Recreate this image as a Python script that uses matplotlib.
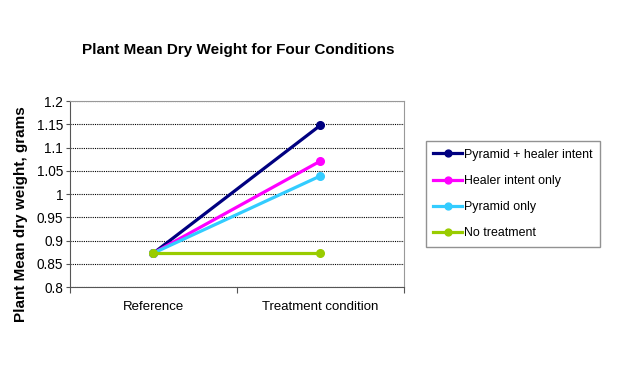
import matplotlib
matplotlib.use("Agg")
import matplotlib.pyplot as plt
from matplotlib.ticker import FixedLocator, NullFormatter

plt.rcParams["font.family"] = ["Liberation Sans", "DejaVu Sans"]

# chart data
categories = ["Reference", "Treatment condition"]
series_names = ["Pyramid + healer intent", "Healer intent only", "Pyramid only", "No treatment"]
pyramid_healer = [0.873, 1.148]
healer_only = [0.873, 1.071]
pyramid_only = [0.873, 1.039]
no_treatment = [0.873, 0.873]
colors = ["#000080", "#FF00FF", "#33CCFF", "#99CC00"]
y_ticks = [0.8, 0.85, 0.9, 0.95, 1.0, 1.05, 1.1, 1.15, 1.2]
y_labels = ["0.8", "0.85", "0.9", "0.95", "1", "1.05", "1.1", "1.15", "1.2"]

fig = plt.figure(figsize=(6.2, 3.69), dpi=100)
ax = fig.add_axes([0.1129, 0.2222, 0.5387, 0.504])

x = [0.5, 1.5]
for name, vals, c in zip(series_names, [pyramid_healer, healer_only, pyramid_only, no_treatment], colors):
    ax.plot(x, vals, color=c, lw=2.3, marker="o", ms=5.5, label=name, zorder=3)

ax.set_xlim(0, 2)
ax.set_ylim(0.8, 1.2)
ax.set_yticks(y_ticks)
ax.set_yticklabels(y_labels, fontsize=9.8)
ax.yaxis.grid(True, color="black", linestyle=(0, (1, 1)), lw=0.8)
ax.set_axisbelow(True)

# category boundaries as ticks, labels centred between
ax.xaxis.set_major_locator(FixedLocator([0, 1, 2]))
ax.xaxis.set_major_formatter(NullFormatter())
ax.xaxis.set_minor_locator(FixedLocator(x))
ax.set_xticklabels(categories, minor=True, fontsize=9.5)
ax.tick_params(axis="x", which="minor", length=0, pad=10)
ax.tick_params(axis="x", which="major", length=4, color="#555555")
ax.tick_params(axis="y", length=3, color="#555555", pad=2)

for s in ["top", "right"]:
    ax.spines[s].set_color("#999999")
for s in ["left", "bottom"]:
    ax.spines[s].set_color("#555555")

fig.text(0.034, 0.42, "Plant Mean dry weight, grams", rotation=90, ha="center", va="center",
         fontsize=11, fontweight="bold")
fig.text(0.384, 0.865, "Plant Mean Dry Weight for Four Conditions", ha="center", va="center",
         fontsize=11, fontweight="bold")

leg = fig.legend(loc="center left", bbox_to_anchor=(0.677, 0.474), fontsize=8.9,
                 frameon=True, fancybox=False, edgecolor="#777777", handlelength=2.3,
                 labelspacing=1.15, borderpad=0.6, handletextpad=0.2, markerscale=0.9)
leg.get_frame().set_linewidth(1.0)

fig.savefig("out.png", dpi=100)
